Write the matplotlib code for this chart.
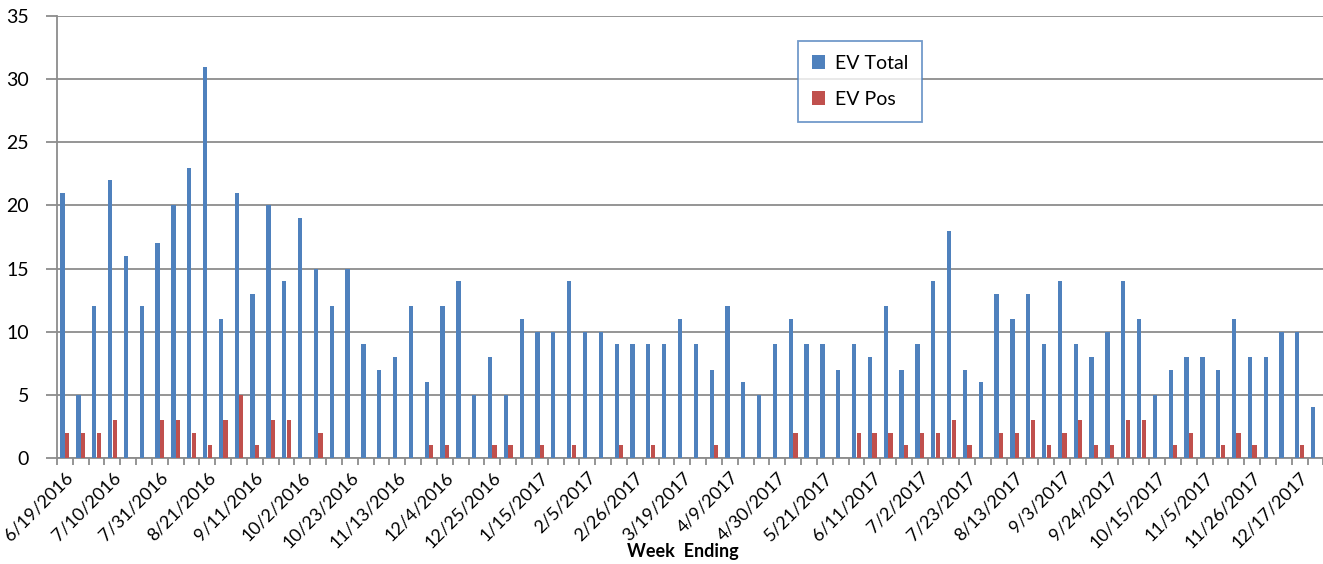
import matplotlib
matplotlib.use("Agg")
import matplotlib.pyplot as plt
import numpy as np
from datetime import date, timedelta

# ---- data ----
start = date(2016, 6, 19)
n_weeks = 80
week_labels = [(start + timedelta(weeks=i)) for i in range(n_weeks)]
week_labels = [f"{d.month}/{d.day}/{d.year}" for d in week_labels]

ev_total = [21, 5, 12, 22, 16, 12, 17, 20, 23, 31,
            11, 21, 13, 20, 14, 19, 15, 12, 15, 9,
            7, 8, 12, 6, 12, 14, 5, 8, 5, 11,
            10, 10, 14, 10, 10, 9, 9, 9, 9, 11,
            9, 7, 12, 6, 5, 9, 11, 9, 9, 7,
            9, 8, 12, 7, 9, 14, 18, 7, 6, 13,
            11, 13, 9, 14, 9, 8, 10, 14, 11, 5,
            7, 8, 8, 7, 11, 8, 8, 10, 10, 4]
ev_pos = [2, 2, 2, 3, 0, 0, 3, 3, 2, 1,
          3, 5, 1, 3, 3, 0, 2, 0, 0, 0,
          0, 0, 0, 1, 1, 0, 0, 1, 1, 0,
          1, 0, 1, 0, 0, 1, 0, 1, 0, 0,
          0, 1, 0, 0, 0, 0, 2, 0, 0, 0,
          2, 2, 2, 1, 2, 2, 3, 1, 0, 2,
          2, 3, 1, 2, 3, 1, 1, 3, 3, 0,
          1, 2, 0, 1, 2, 1, 0, 0, 1, 0]

series_names = ["EV Total", "EV Pos"]
colors = ["#4F81BD", "#C0504D"]

plt.rcParams['font.family'] = ['Lato', 'DejaVu Sans']

W, H = 1323, 564
fig = plt.figure(figsize=(W / 100, H / 100), dpi=100)
ax = fig.add_axes([57 / W, (H - 458) / H, (1323.4 - 57) / W, (458 - 16) / H])

x = np.arange(n_weeks)
bw = 0.27
ax.bar(x - 0.145, ev_total, width=bw, color=colors[0], label=series_names[0], zorder=3)
ax.bar(x + 0.145, ev_pos, width=bw, color=colors[1], label=series_names[1], zorder=3)

ax.set_xlim(-0.5, n_weeks - 0.5)
ax.set_ylim(0, 35)
ax.set_yticks(np.arange(0, 36, 5))
ax.yaxis.grid(True, color="#8C8C8C", linewidth=1.3, zorder=0)
ax.set_axisbelow(True)

for s in ["top", "right"]:
    ax.spines[s].set_visible(False)
for s in ["left", "bottom"]:
    ax.spines[s].set_color("#8C8C8C")
    ax.spines[s].set_linewidth(1.3)

ax.tick_params(axis="y", length=8, width=1.3, color="#8C8C8C", pad=12, labelsize=14)
# minor ticks at category boundaries, labels at every 3rd category
ax.set_xticks(np.arange(-0.5, n_weeks, 1.0), minor=True)
ax.set_xticks(x[::3])
ax.set_xticklabels(week_labels[::3], rotation=45, ha="right", rotation_mode="anchor", fontsize=13)
ax.tick_params(axis="x", which="major", length=0, pad=8)
ax.tick_params(axis="x", which="minor", length=5, width=1.3, color="#8C8C8C")

ax.set_xlabel("Week  Ending", fontsize=13, fontweight="bold")
ax.xaxis.label.set_va("center")
ax.xaxis.set_label_coords((683 - 57) / (1323.4 - 57), -(551 - 458) / (458 - 16))

leg = ax.legend(loc="upper left", bbox_to_anchor=((798 - 57) / (1323.4 - 57), 1 - (41 - 16) / (458 - 16)),
                frameon=True, fancybox=False, fontsize=14, handlelength=0.7, handleheight=0.7,
                handletextpad=0.5, labelspacing=1.0, borderpad=0.7, borderaxespad=0)
leg.get_frame().set_edgecolor("#4F81BD")
leg.get_frame().set_linewidth(1.3)

fig.savefig("out.png", dpi=100)
